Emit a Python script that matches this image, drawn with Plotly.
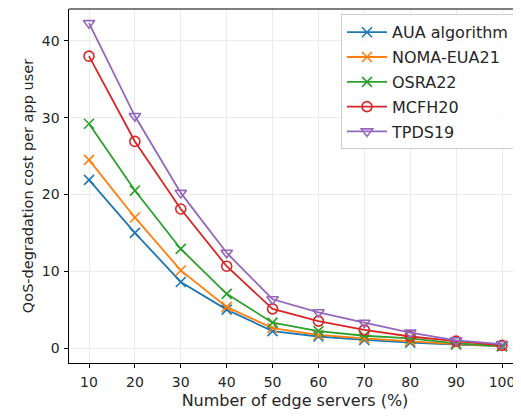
import plotly.graph_objects as go

x_vals = [10, 20, 30, 40, 50, 60, 70, 80, 90, 100]
aua = [21.9, 15.0, 8.6, 5.0, 2.2, 1.5, 1.05, 0.7, 0.45, 0.25]
noma = [24.5, 17.0, 10.1, 5.35, 2.6, 1.7, 1.25, 0.9, 0.5, 0.25]
osra = [29.2, 20.5, 12.9, 7.05, 3.3, 2.2, 1.6, 1.25, 0.6, 0.25]
mcfh = [38.0, 26.9, 18.1, 10.65, 5.1, 3.5, 2.35, 1.5, 0.9, 0.35]
tpds = [42.3, 30.2, 20.2, 12.4, 6.35, 4.65, 3.3, 2.0, 1.0, 0.5]

names = ["AUA algorithm", "NOMA-EUA21", "OSRA22", "MCFH20", "TPDS19"]
series = [aua, noma, osra, mcfh, tpds]
colors = ["#1f77b4", "#ff7f0e", "#2ca02c", "#d62728", "#9467bd"]
symbols = ["x-thin-open", "x-thin-open", "x-thin-open", "circle-open", "triangle-down-open"]

fig = go.Figure()
for i, (n, s, c, sym) in enumerate(zip(names, series, colors, symbols)):
    fig.add_trace(go.Scatter(
        x=x_vals, y=s, name=n, mode="lines+markers",
        line=dict(color=c, width=1.8),
        marker=dict(symbol=sym, size=10, color=c, line=dict(color=c, width=1.6)),
        legendgroup=f"g{i}",
    ))

font_family = "DejaVu Sans"
fig.update_layout(
    width=513, height=408,
    margin=dict(l=61, r=0, t=1, b=53),
    paper_bgcolor="white", plot_bgcolor="white",
    font=dict(family=font_family, size=15, color="#262626"),
    showlegend=True,
    legend=dict(
        x=0.9845, y=0.985, xanchor="right", yanchor="top",
        bgcolor="rgba(255,255,255,0.85)", bordercolor="#cccccc", borderwidth=1,
        font=dict(family=font_family, size=16, color="#262626"),
        tracegroupgap=1, itemwidth=40,
    ),
    xaxis=dict(
        range=[5.64, 104.14], tickvals=x_vals,
        showgrid=True, gridcolor="#ebebeb", gridwidth=1,
        showline=True, linecolor="black", linewidth=1.2, mirror=False,
        ticks="outside", ticklen=3.5, tickcolor="black",
        ticklabelstandoff=3, tickfont=dict(size=14),
        zeroline=False,
        title=dict(text="Number of edge servers (%)", standoff=5, font=dict(size=16)),
    ),
    yaxis=dict(
        range=[-1.95, 44.14], tickvals=[0, 10, 20, 30, 40],
        showgrid=True, gridcolor="#ebebeb", gridwidth=1,
        showline=True, linecolor="black", linewidth=1.2,
        ticks="outside", ticklen=3.5, tickcolor="black",
        ticklabelstandoff=2, tickfont=dict(size=14),
        zeroline=False,
        title=dict(text="QoS-degradation cost per app user", standoff=4, font=dict(size=14.5)),
    ),
)
fig.add_shape(type="line", xref="paper", yref="paper", x0=0, x1=1, y0=1, y1=1,
              line=dict(color="black", width=1.2))

fig.write_html("out.html")
